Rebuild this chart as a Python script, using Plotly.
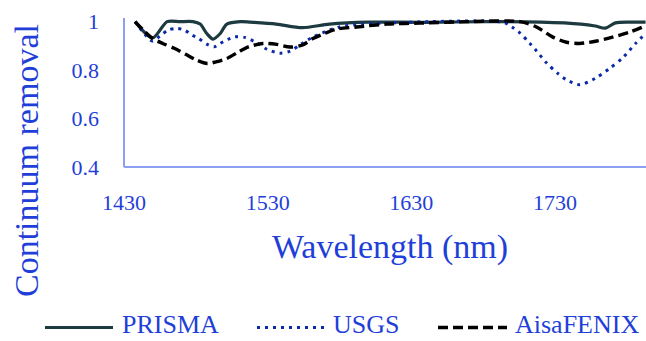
import plotly.graph_objects as go

# Continuum-removed spectra, 1430-1800 nm
prisma_wl = [1437.7, 1450, 1460, 1469, 1478, 1483, 1487.6, 1492, 1497, 1501.6, 1511, 1518,
             1536, 1554, 1573, 1600, 1640, 1680, 1720, 1748, 1758, 1765, 1772, 1782, 1793]
prisma_val = [1.0, 0.933, 1.0, 1.0, 1.0, 0.99, 0.951, 0.928, 0.951, 0.99, 1.0, 0.998,
              0.99, 0.975, 0.99, 0.998, 0.997, 1.0, 0.998, 0.99, 0.982, 0.973, 0.995, 0.998, 0.998]

usgs_wl = [1437.7, 1444.6, 1449.5, 1455, 1460.6, 1466.9, 1472.4, 1477.5, 1482, 1487.6, 1492.8,
           1497, 1502, 1507, 1514, 1522.6, 1529.5, 1538.6, 1545.5, 1554, 1561, 1568.5, 1580,
           1596, 1613, 1643, 1694, 1700, 1705.6, 1712.5, 1717, 1724, 1732, 1738, 1747, 1758,
           1768, 1777, 1786, 1793]
usgs_val = [1.0, 0.947, 0.92, 0.94, 0.965, 0.972, 0.964, 0.944, 0.93, 0.907, 0.896,
            0.91, 0.926, 0.937, 0.935, 0.912, 0.886, 0.87, 0.878, 0.91, 0.935, 0.955, 0.978,
            0.99, 0.994, 1.0, 0.997, 0.978, 0.953, 0.91, 0.88, 0.83, 0.786, 0.76, 0.74, 0.766,
            0.807, 0.85, 0.91, 0.95]

aisa_wl = [1437.7, 1444.6, 1450, 1457, 1465, 1473, 1481, 1488, 1494, 1501.6, 1509.6, 1516.6,
           1526.7, 1536.5, 1545.5, 1554, 1561.5, 1570, 1578, 1592, 1613, 1636, 1671, 1705.6,
           1717, 1728.5, 1738, 1747, 1759, 1770, 1782, 1791]
aisa_val = [1.0, 0.958, 0.93, 0.91, 0.89, 0.865, 0.84, 0.827, 0.834, 0.848, 0.875, 0.896,
            0.91, 0.906, 0.895, 0.903, 0.93, 0.952, 0.969, 0.978, 0.99, 0.994, 1.0, 1.0,
            0.978, 0.936, 0.915, 0.91, 0.92, 0.936, 0.957, 0.978]

x_ticks = [1430, 1530, 1630, 1730]
y_ticks = [0.4, 0.6, 0.8, 1.0]
y_tick_text = ["0.4", "0.6", "0.8", "1"]

series_names = ["PRISMA", "USGS", "AisaFENIX"]
series_colors = ["#1c3a3f", "#0a2aa8", "#000000"]
series_dash = ["solid", "3px,5px", "10px,5px"]
series_width = [3.2, 3.0, 3.4]

FONT = "Liberation Serif"
TEXT_BLUE = "#1f3fd8"
AXIS_BLUE = "#8c9ff2"

W, H = 646, 341
L, R, T, B = 124, 0, 18, 174
PW, PH = W - L - R, H - T - B

fig = go.Figure()
for wl, val, name, col, dash, lw in zip(
        [prisma_wl, usgs_wl, aisa_wl], [prisma_val, usgs_val, aisa_val],
        series_names, series_colors, series_dash, series_width):
    fig.add_trace(go.Scatter(
        x=wl, y=val, mode="lines", name=name,
        line=dict(color=col, width=lw, dash=dash, shape="spline", smoothing=0.8),
        showlegend=False,
    ))

fig.update_layout(
    width=W, height=H,
    margin=dict(l=L, r=R, t=T, b=B, pad=0),
    paper_bgcolor="white", plot_bgcolor="white",
    font=dict(family=FONT, color=TEXT_BLUE),
    showlegend=False,
)
fig.update_xaxes(
    range=[1430, 1793.3], tickvals=x_ticks, ticktext=[str(v) for v in x_ticks],
    showgrid=False, zeroline=False, showline=False, ticks="",
    tickfont=dict(family=FONT, size=22, color=TEXT_BLUE),
    ticklabelstandoff=20,
)
fig.update_yaxes(
    range=[0.4, 1.015], tickvals=y_ticks, ticktext=y_tick_text,
    showgrid=False, zeroline=False, showline=False, ticks="",
    tickfont=dict(family=FONT, size=22, color=TEXT_BLUE),
    ticklabelstandoff=24,
)

# axis lines (left and bottom)
fig.add_shape(type="line", xref="paper", yref="paper", x0=0, x1=0, y0=0, y1=1,
              line=dict(color=AXIS_BLUE, width=2))
fig.add_shape(type="line", xref="paper", yref="paper", x0=0, x1=1, y0=0, y1=0,
              line=dict(color=AXIS_BLUE, width=2))


def px_x(px):
    return (px - L) / PW


def px_y(py):
    return (H - B - py) / PH


# axis titles
fig.add_annotation(x=px_x(390), y=px_y(247), xref="paper", yref="paper",
                   text="Wavelength (nm)", showarrow=False,
                   xanchor="center", yanchor="middle",
                   font=dict(family=FONT, size=34, color=TEXT_BLUE))
fig.add_annotation(x=px_x(26), y=px_y(161), xref="paper", yref="paper",
                   text="Continuum removal", showarrow=False, textangle=-90,
                   xanchor="center", yanchor="middle",
                   font=dict(family=FONT, size=34, color=TEXT_BLUE))

# legend row along the bottom
legend_y = 327.5
legend_text_y = 324.5
legend_items = [(45, 113, 121), (257, 325, 332), (438, 507, 514)]
for (x0, x1, tx), name, col, dash, lw in zip(legend_items, series_names, series_colors,
                                             series_dash, series_width):
    fig.add_shape(type="line", xref="paper", yref="paper",
                  x0=px_x(x0), x1=px_x(x1), y0=px_y(legend_y), y1=px_y(legend_y),
                  line=dict(color=col, width=lw, dash=dash))
    fig.add_annotation(x=px_x(tx), y=px_y(legend_text_y), xref="paper", yref="paper",
                       text=name, showarrow=False, xanchor="left", yanchor="middle",
                       borderpad=0,
                       font=dict(family=FONT, size=26, color=TEXT_BLUE))

fig.write_html("out.html")
